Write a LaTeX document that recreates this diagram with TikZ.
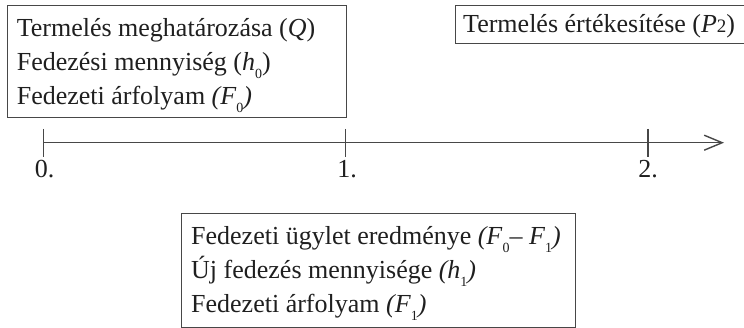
\documentclass[tikz,border=0pt]{standalone}
\usepackage{fontspec}
\setmainfont{Liberation Serif}
\usetikzlibrary{arrows.meta}
\newcommand\lowidx[1]{\raisebox{-0.3em}{\fontsize{14}{14}\selectfont #1}}
\tikzset{
  frame/.style={draw=black!72, line width=1.4pt, anchor=north west, inner sep=0pt},
  txt/.style={anchor=base west, inner sep=0pt, font=\fontsize{26}{34}\selectfont, text=black!88},
  ticklbl/.style={anchor=base, inner sep=0pt, font=\fontsize{26}{34}\selectfont, text=black!88},
  axisline/.style={draw=black!72, line width=1.4pt},
}
\begin{document}
\begin{tikzpicture}[x=1pt,y=1pt]
\useasboundingbox (0,0) rectangle (744,-328);
% boxes
\node[frame, minimum width=339pt, minimum height=112pt] (b1) at (6.6,-5) {};
\node[frame, minimum width=310pt, minimum height=38pt] (b2) at (454.7,-5) {};
\node[frame, minimum width=394pt, minimum height=114pt] (b3) at (181,-213) {};
% box 1 text
\node[txt] (l11) at (16.6,-36.7) {Termelés meghatározása (\textit{Q})};
\node[txt] (l12) at (16.6,-71) {Fedezési mennyiség (\textit{h}\lowidx{0})};
\node[txt] (l13) at (16.6,-105) {Fedezeti árfolyam \textit{(F}\lowidx{0}\textit{)}};
% box 2 text
\node[txt] (l21) at (463,-33) {Termelés értékesítése (\textit{P}{\fontsize{19}{19}\selectfont 2})};
% box 3 text
\node[txt] (l31) at (191,-245) {Fedezeti ügylet eredménye \textit{(F}\lowidx{0}– \textit{F}\lowidx{1}\textit{)}};
\node[txt] (l32) at (191,-279) {Új fedezés mennyisége \textit{(h}\lowidx{1}\textit{)}};
\node[txt] (l33) at (191,-313) {Fedezeti árfolyam \textit{(F}\lowidx{1}\textit{)}};
% axis
\coordinate (a0) at (43.7,-142.7);
\coordinate (a1) at (345.5,-142.7);
\coordinate (a2) at (648,-142.7);
\coordinate (aend) at (724,-142.7);
\draw[axisline, -{Straight Barb[length=18pt,width=15pt,line width=1.4pt]}] (a0) -- (aend);
\foreach \p in {a0,a1,a2}{
  \draw[axisline] ([yshift=13.7pt]\p) -- ([yshift=-14.3pt]\p);
}
\node[ticklbl] (n0) at ([xshift=1pt,yshift=-35.3pt]a0) {0.};
\node[ticklbl] (n1) at ([xshift=1.5pt,yshift=-35.3pt]a1) {1.};
\node[ticklbl] (n2) at ([xshift=0pt,yshift=-35.3pt]a2) {2.};
\end{tikzpicture}
\end{document}
